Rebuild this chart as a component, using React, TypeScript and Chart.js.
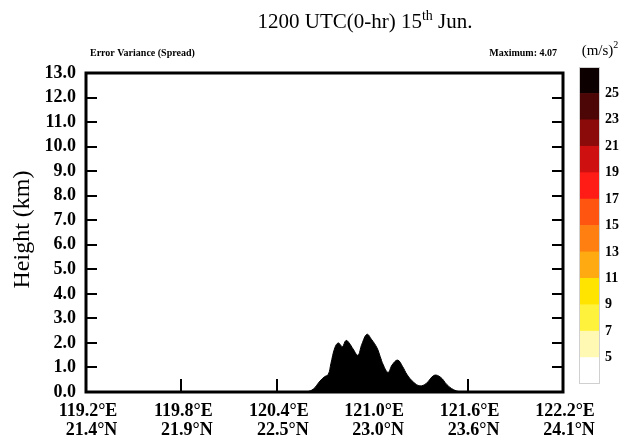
import React, { useEffect, useRef } from 'react';
import { Chart, registerables } from 'chart.js';

Chart.register(...registerables);

// ---- data ----
const lonPoints = [120.59, 120.63, 120.672, 120.70, 120.724, 120.74, 120.765, 120.787, 120.812, 120.835, 120.855, 120.88, 120.91, 120.935, 120.967, 120.995, 121.03, 121.05, 121.07, 121.10, 121.125, 121.16, 121.19, 121.22, 121.26, 121.30, 121.34, 121.39, 121.43, 121.47, 121.51, 121.552];
const heightPoints = [0.0, 0.12, 0.45, 0.62, 0.72, 1.15, 1.8, 2.0, 1.85, 2.1, 2.0, 1.75, 1.5, 1.95, 2.35, 2.15, 1.8, 1.45, 1.1, 0.8, 1.1, 1.3, 1.05, 0.7, 0.4, 0.25, 0.35, 0.68, 0.6, 0.3, 0.1, 0.0];
const heightTicks = [0, 1, 2, 3, 4, 5, 6, 7, 8, 9, 10, 11, 12, 13];
const lonTicks = [119.2, 119.8, 120.4, 121.0, 121.6, 122.2];
const lonLabels = ['119.2°E', '119.8°E', '120.4°E', '121.0°E', '121.6°E', '122.2°E'];
const latLabels = ['21.4°N', '21.9°N', '22.5°N', '23.0°N', '23.6°N', '24.1°N'];
const bandEdges = [3, 5, 7, 9, 11, 13, 15, 17, 19, 21, 23, 25, 27];
const bandColors = ['#ffffff', '#fff9b4', '#fff23c', '#ffe400', '#ffaa10', '#ff8010', '#ff5511', '#ff1c16', '#cf1010', '#8b0a0a', '#4d0606', '#0d0000'];
const bandLabels = [5, 7, 9, 11, 13, 15, 17, 19, 21, 23, 25];
const titleMain = '1200 UTC(0-hr) 15';
const titleSup = 'th';
const titleEnd = ' Jun.';
const leftNote = 'Error Variance (Spread)';
const rightNote = 'Maximum: 4.07';
const yTitle = 'Height (km)';
const unitText = '(m/s)';
const unitSup = '2';

const SERIF = "'Liberation Serif', 'Times New Roman', serif";

const mainPlugin = {
  id: 'mainDecor',
  afterDraw(chart: any) {
    const ctx = chart.ctx as CanvasRenderingContext2D;
    const { left, right, top, bottom } = chart.chartArea;
    const xs = chart.scales.x;
    const ys = chart.scales.y;
    ctx.save();
    ctx.strokeStyle = '#000';
    // ticks inward
    ctx.lineWidth = 2;
    const tl = 11;
    heightTicks.forEach((v) => {
      const y = Math.round(ys.getPixelForValue(v));
      ctx.beginPath();
      ctx.moveTo(left, y); ctx.lineTo(left + tl, y);
      ctx.moveTo(right, y); ctx.lineTo(right - tl, y);
      ctx.stroke();
    });
    lonTicks.forEach((v) => {
      const x = Math.round(xs.getPixelForValue(v));
      ctx.beginPath();
      ctx.moveTo(x, bottom); ctx.lineTo(x, bottom - tl - 2);
      ctx.stroke();
    });
    // frame
    ctx.lineWidth = 3;
    ctx.strokeRect(left, top, right - left, bottom - top);
    // x labels
    ctx.fillStyle = '#000';
    ctx.font = `bold 18px ${SERIF}`;
    ctx.textBaseline = 'alphabetic';
    lonTicks.forEach((v, i) => {
      const x = xs.getPixelForValue(v) + 2;
      const w1 = ctx.measureText(lonLabels[i]).width;
      ctx.textAlign = 'left';
      ctx.fillText(lonLabels[i], x - w1 / 2, 416);
      const w2 = ctx.measureText(latLabels[i]).width;
      ctx.fillText(latLabels[i], x + w1 / 2 - w2, 435);
    });
    // title
    ctx.font = `21px ${SERIF}`;
    const wA = ctx.measureText(titleMain).width;
    const wC = ctx.measureText(titleEnd).width;
    ctx.font = `14px ${SERIF}`;
    const wB = ctx.measureText(titleSup).width;
    const total = wA + wB + wC;
    let tx = 365 - total / 2;
    ctx.textAlign = 'left';
    ctx.font = `21px ${SERIF}`;
    ctx.fillText(titleMain, tx, 28);
    tx += wA;
    ctx.font = `14px ${SERIF}`;
    ctx.fillText(titleSup, tx, 20);
    tx += wB;
    ctx.font = `21px ${SERIF}`;
    ctx.fillText(titleEnd, tx, 28);
    // notes
    ctx.font = `bold 10px ${SERIF}`;
    ctx.textAlign = 'left';
    ctx.fillText(leftNote, 90, 56);
    ctx.textAlign = 'right';
    ctx.fillText(rightNote, 557, 56);
    // y title
    ctx.translate(29, (top + bottom) / 2 - 3);
    ctx.rotate(-Math.PI / 2);
    ctx.textAlign = 'center';
    ctx.font = `24px ${SERIF}`;
    ctx.fillText(yTitle, 0, 0);
    ctx.restore();
  },
};

const barPlugin = {
  id: 'barDecor',
  afterDraw(chart: any) {
    const ctx = chart.ctx as CanvasRenderingContext2D;
    const { left, right, top, bottom } = chart.chartArea;
    ctx.save();
    ctx.strokeStyle = '#d0d0d0';
    ctx.lineWidth = 1;
    ctx.strokeRect(left + 0.5, top + 0.5, right - left - 1, bottom - top - 1);
    ctx.fillStyle = '#000';
    ctx.font = `15px ${SERIF}`;
    const w1 = ctx.measureText(unitText).width;
    ctx.font = `10px ${SERIF}`;
    const w2 = ctx.measureText(unitSup).width;
    const x0 = 40 - (w1 + w2) / 2;
    ctx.font = `15px ${SERIF}`;
    ctx.textAlign = 'left';
    ctx.fillText(unitText, x0, 55);
    ctx.font = `10px ${SERIF}`;
    ctx.fillText(unitSup, x0 + w1, 48);
    ctx.restore();
  },
};

export default function App() {
  const mainRef = useRef<HTMLCanvasElement>(null);
  const barRef = useRef<HTMLCanvasElement>(null);

  useEffect(() => {
    document.body.style.margin = '0';
    const main = new Chart(mainRef.current!, {
      type: 'line',
      data: {
        datasets: [
          {
            data: lonPoints.map((x, i) => ({ x, y: heightPoints[i] })),
            fill: 'origin',
            backgroundColor: '#000',
            borderColor: '#000',
            borderWidth: 1,
            pointRadius: 0,
            tension: 0.4,
          },
        ],
      },
      options: {
        animation: false,
        responsive: false,
        events: [],
        layout: { padding: { top: 73, right: 60, left: 0, bottom: 0 } },
        plugins: { legend: { display: false }, tooltip: { enabled: false } },
        scales: {
          x: {
            type: 'linear',
            min: 119.2,
            max: 122.2,
            ticks: { display: false },
            grid: { display: false },
            border: { display: false },
            afterFit: (s: any) => { s.height = 49; },
          },
          y: {
            min: 0,
            max: 13,
            afterBuildTicks: (s: any) => { s.ticks = heightTicks.map((v) => ({ value: v })); },
            ticks: {
              autoSkip: false,
              callback: (v: any) => Number(v).toFixed(1),
              font: { family: SERIF, size: 18, weight: 'bold' },
              color: '#000',
              padding: 10,
            },
            grid: { display: false, drawTicks: false },
            border: { display: false },
            afterFit: (s: any) => { s.width = 86; },
          },
        },
      },
      plugins: [mainPlugin],
    } as any);

    const bar = new Chart(barRef.current!, {
      type: 'bar',
      data: {
        labels: ['c'],
        datasets: bandColors.map((c, i) => ({
          data: [[bandEdges[i], bandEdges[i + 1]]],
          backgroundColor: c,
          borderWidth: 0,
          barPercentage: 1,
          categoryPercentage: 1,
          grouped: false,
        })),
      },
      options: {
        animation: false,
        responsive: false,
        events: [],
        layout: { padding: { top: 67, bottom: 57, left: 19, right: 0 } },
        plugins: { legend: { display: false }, tooltip: { enabled: false } },
        scales: {
          x: { display: false },
          y: {
            position: 'right',
            min: 3,
            max: 27,
            afterBuildTicks: (s: any) => { s.ticks = bandLabels.map((v) => ({ value: v })); },
            ticks: {
              autoSkip: false,
              font: { family: SERIF, size: 14, weight: 'bold' },
              color: '#000',
              padding: 5,
            },
            grid: { display: false, drawTicks: false },
            border: { display: false },
            afterFit: (s: any) => { s.width = 23; },
          },
        },
      },
      plugins: [barPlugin],
    } as any);

    return () => {
      main.destroy();
      bar.destroy();
    };
  }, []);

  return (
    <div style={{ position: 'relative', width: 623, height: 441, background: '#fff' }}>
      <canvas ref={mainRef} width={623} height={441} style={{ position: 'absolute', left: 0, top: 0 }} />
      <canvas ref={barRef} width={63} height={441} style={{ position: 'absolute', left: 560, top: 0 }} />
    </div>
  );
}
